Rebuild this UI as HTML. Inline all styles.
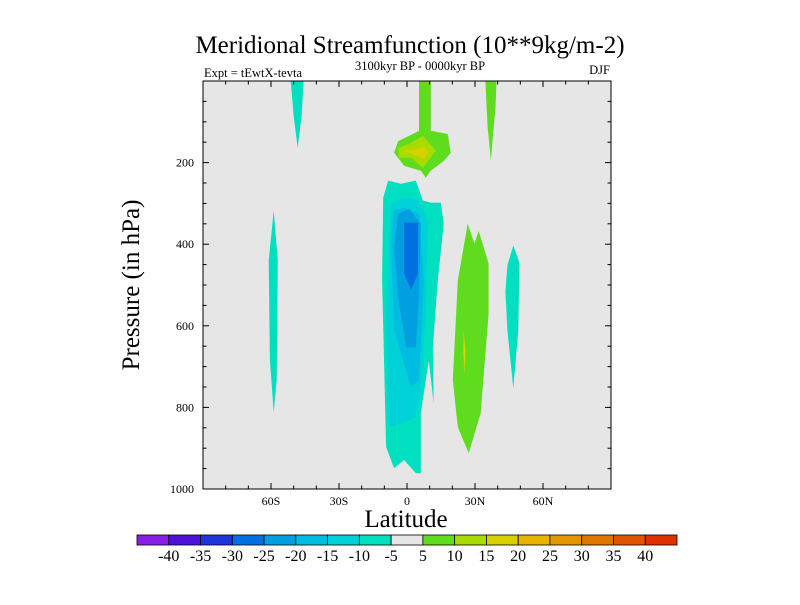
<!DOCTYPE html>
<html><head><meta charset="utf-8"><style>
body{margin:0;background:#fff}
svg text{font-family:"Liberation Serif",serif;fill:#000}
</style></head><body>
<svg id="c" width="800" height="600" viewBox="0 0 800 600">
<text x="410" y="53" font-size="25" text-anchor="middle">Meridional Streamfunction (10**9kg/m-2)</text>
<text x="204" y="77" font-size="12.5">Expt = tEwtX-tevta</text>
<text x="420" y="70" font-size="12.5" text-anchor="middle">3100kyr BP - 0000kyr BP</text>
<text x="610" y="74" font-size="12.5" text-anchor="end">DJF</text>
<rect x="203" y="81" width="408" height="408" fill="#e6e6e6"/>
<g id="fills"></g>
<rect x="203" y="81" width="408" height="408" fill="none" stroke="#000" stroke-width="1"/>
<g id="ticks"></g>
<text x="406" y="527" font-size="25" text-anchor="middle">Latitude</text>
<text transform="translate(139,285) rotate(-90)" font-size="25" text-anchor="middle">Pressure (in hPa)</text>
<g id="cbar"></g>
</svg>
<script>
const latTicks=[-60,-30,0,30,60];
const latTickLabels=["60S","30S","0","30N","60N"];
const presTicks=[200,400,600,800,1000];
const cbarLevels=[-40,-35,-30,-25,-20,-15,-10,-5,5,10,15,20,25,30,35,40];
const cbarColors=["#8a1ee6","#5010dc","#2034dc","#0070e0","#00a0e0","#00bce0","#00d0d8","#00e0c0","#e6e6e6","#60dc1e","#a8dc00","#d8d000","#e8b400","#e49600","#e07600","#e05400","#e03000"];
// contour regions: [level color index, [[lat,pressure],...]]
const regionLevels=[7,6,5,4,3,9,10,11,9,9,11,7,7,7];
const regionShapes=[
[[-8.3,244],[-2.6,252],[3.9,244],[7,293],[10.5,298],[14.9,298],[16.2,350],[13.6,489],[11.4,653],[11.8,790],[9.6,685],[6.1,814],[6.1,961],[3.9,961],[-1.3,929],[-5.7,949],[-9.2,897],[-11,489],[-10.5,286]],
[[-7,301],[-1.3,286],[5.3,293],[9.2,342],[8.3,570],[6.1,758],[3.9,824],[-2.6,839],[-7.9,848],[-9.2,570]],
[[-6.1,318],[-1.3,311],[5.3,325],[7.5,489],[5.3,733],[1.8,751],[-5.7,611],[-7,411]],
[[-3.9,325],[0.9,313],[6.1,350],[5.3,531],[3.9,653],[-0.4,653],[-3.9,531],[-5.7,408]],
[[-1.3,347],[4.8,347],[4.8,472],[1.8,513],[-1.3,472]],
[[5.3,0],[10.5,0],[10.5,122],[18,130],[19.3,176],[16.2,196],[10.5,220],[8.3,237],[6.1,220],[-1.3,208],[-5.7,176],[-3.9,147],[1.8,132],[5.3,122]],
[[-3.9,164],[1.8,152],[7,134],[12.7,171],[7,213],[1.8,188],[-3.5,188]],
[[-1.3,171],[5.3,166],[7.5,159],[9.6,176],[7,191],[1.8,178]],
[[26.8,350],[29.8,399],[31.6,367],[36,447],[36,570],[32.5,814],[27.2,912],[22.4,848],[20.2,733],[22.4,489]],
[[34.6,0],[39.5,0],[39,70],[38,130],[37,196],[35.5,110]],
[[25,610],[25.8,660],[25.4,720],[24.8,660]],
[[44.3,452],[46.9,403],[49.6,445],[49.1,611],[46.9,753],[44.3,611],[43.4,516]],
[[-58.8,318],[-57,440],[-57.5,733],[-58.8,812],[-60.5,684],[-61,440]],
[[-51.3,0],[-45.6,0],[-46.5,86],[-48.2,164],[-50,86]]
];
const NS="http://www.w3.org/2000/svg";
const X0=203,X1=611,Y0=81,Y1=489;
const xs=lat=>X0+(lat+90)/180*(X1-X0);
const ys=p=>Y0+p/1000*(Y1-Y0);
function mk(tag,attrs,parent){const e=document.createElementNS(NS,tag);for(const k in attrs)e.setAttribute(k,attrs[k]);parent.appendChild(e);return e;}
const fills=document.getElementById('fills');
regionShapes.forEach((shape,i)=>{
 const pts=shape.map(([la,p])=>xs(la).toFixed(1)+","+ys(p).toFixed(1)).join(" ");
 const e=mk('polygon',{points:pts,fill:cbarColors[regionLevels[i]]},fills);
 
 
});
const tk=document.getElementById('ticks');
for(let la=-80;la<=80;la+=10){
 const major=latTicks.includes(la);const L=major?6:3.5;
 mk('line',{x1:xs(la),x2:xs(la),y1:Y1,y2:Y1-L,stroke:'#000'},tk);
 mk('line',{x1:xs(la),x2:xs(la),y1:Y0,y2:Y0+L,stroke:'#000'},tk);
}
for(let p=50;p<1000;p+=50){
 const major=presTicks.includes(p);const L=major?6:3.5;
 mk('line',{x1:X0,x2:X0+L,y1:ys(p),y2:ys(p),stroke:'#000'},tk);
 mk('line',{x1:X1,x2:X1-L,y1:ys(p),y2:ys(p),stroke:'#000'},tk);
}
latTicks.forEach((la,i)=>{
 const t=mk('text',{x:xs(la),y:Y1+16,'font-size':12,'text-anchor':'middle'},tk);t.textContent=latTickLabels[i];
 
 
});
presTicks.forEach(p=>{
 const t=mk('text',{x:X0-9,y:ys(p)+4,'font-size':12,'text-anchor':'end'},tk);t.textContent=p;
 
 
});
const cb=document.getElementById('cbar');
const CX0=137,CW=540/17,CY=535,CH=10;
cbarColors.forEach((c,i)=>{
 const r=mk('rect',{x:CX0+i*CW,y:CY,width:CW,height:CH,fill:c,stroke:'#000','stroke-width':0.8},cb);
 
 
});
cbarLevels.forEach((v,i)=>{
 const t=mk('text',{x:CX0+(i+1)*CW,y:CY+26,'font-size':16,'text-anchor':'middle'},cb);t.textContent=v;
 
 
});
</script>
</body></html>
